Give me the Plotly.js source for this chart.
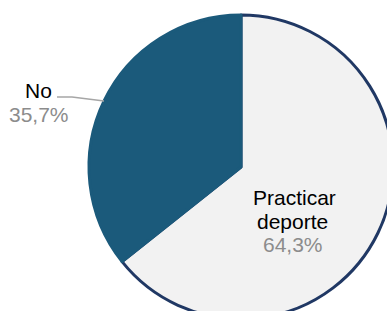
<!DOCTYPE html>
<html>
<head>
<meta charset="utf-8">
<script src="https://cdn.plot.ly/plotly-3.0.1.min.js"></script>
<style>
html,body{margin:0;padding:0;overflow:hidden;background:#fff;width:387px;height:311px;}
#chart{position:absolute;left:0;top:0;width:394px;height:334px;}
</style>
</head>
<body>
<div id="chart"></div>
<script>
// Data
var labels = ["Practicar deporte", "No"];
var values = [64.3, 35.7];
var sliceColors = ["#f2f2f2", "#1b5a7b"];

var W = 394, H = 334;
var cx = 241, cy = 167, r = 152;

function px(x){ return x / W; }
function py(y){ return 1 - y / H; }
function fmt(v){ return v.toFixed(1).replace('.', ',') + '%'; }

var trace = {
  type: 'pie',
  labels: labels,
  values: values,
  sort: false,
  direction: 'clockwise',
  rotation: 0,
  textinfo: 'none',
  hoverinfo: 'none',
  marker: {
    colors: sliceColors,
    line: { color: ["#203864", "#1b5a7b"], width: [3, 3] }
  },
  domain: { x: [px(cx - r), px(cx + r)], y: [py(cy + r), py(cy - r)] },
  showlegend: false
};

var fontFamily = 'Liberation Sans, Arial, sans-serif';
function ann(text, x, y, color){
  return {
    text: text, xref: 'paper', yref: 'paper', x: px(x), y: py(y),
    xanchor: 'center', yanchor: 'middle', showarrow: false,
    font: { family: fontFamily, size: 21, color: color }
  };
}

var annotations = [];
// "No" (outside, left)
annotations.push(ann(labels[1], 38, 90, '#000000'));
annotations.push(ann(fmt(values[1]), 38.5, 114, '#8c8c8c'));
// "Practicar deporte" (inside)
var words = labels[0].split(' ');
annotations.push(ann(words[0], 294.5, 197, '#000000'));
annotations.push(ann(words[1], 292.5, 221, '#000000'));
annotations.push(ann(fmt(values[0]), 292.5, 245, '#8c8c8c'));

var shapes = [{
  type: 'path', xref: 'paper', yref: 'paper',
  path: 'M ' + px(57) + ' ' + py(97) + ' L ' + px(72) + ' ' + py(97) + ' L ' + px(104) + ' ' + py(101),
  line: { color: '#a6a6a6', width: 1.5 }
}];

var layout = {
  width: W, height: H,
  margin: { l: 0, r: 0, t: 0, b: 0, pad: 0 },
  paper_bgcolor: '#ffffff',
  plot_bgcolor: '#ffffff',
  annotations: annotations,
  shapes: shapes,
  showlegend: false
};

Plotly.newPlot('chart', [trace], layout, { displayModeBar: false, staticPlot: true });
</script>
</body>
</html>
